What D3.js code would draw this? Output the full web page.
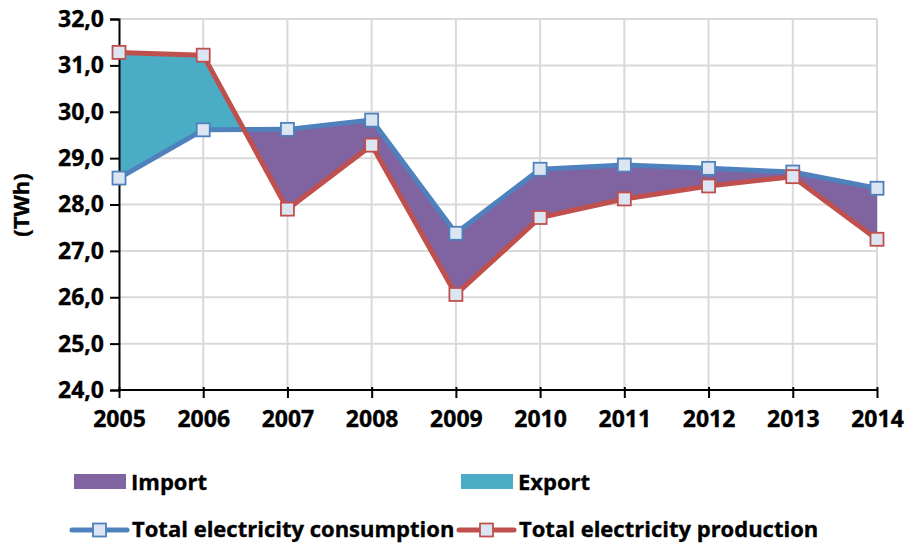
<!DOCTYPE html>
<html>
<head>
<meta charset="utf-8">
<script src="https://cdn.jsdelivr.net/npm/d3@7/dist/d3.min.js"></script>
<style>
  html, body { margin: 0; padding: 0; background: #fff; }
  svg { display: block; }
  text { font-family: "Open Sans", "Noto Sans", sans-serif; font-weight: 700; fill: #000; stroke: #000; stroke-width: 0.35px; }
</style>
</head>
<body>
<svg id="chart" width="907" height="545"></svg>
<script>
// Electricity balance 2005–2014 (TWh)
const years = [2005, 2006, 2007, 2008, 2009, 2010, 2011, 2012, 2013, 2014];
const consumption = [28.57, 29.61, 29.62, 29.82, 27.38, 28.76, 28.85, 28.78, 28.70, 28.35];
const production  = [31.28, 31.22, 27.90, 29.28, 26.06, 27.72, 28.12, 28.40, 28.60, 27.25];
const yTickValues = [24, 25, 26, 27, 28, 29, 30, 31, 32];
const yTickLabels = ["24,0", "25,0", "26,0", "27,0", "28,0", "29,0", "30,0", "31,0", "32,0"];
const yAxisTitle = "(TWh)";
const legendAreas = ["Import", "Export"];
const legendLines = ["Total electricity consumption", "Total electricity production"];

const colors = {
  import: "#8064A2",
  export: "#4BACC6",
  consumption: "#4F81BD",
  production: "#C0504D",
  markerFill: "#DCE6F2",
  grid: "#D9D9D9"
};

const svg = d3.select("#chart");
const W = 907, H = 545;
const plotLeft = 119, plotRight = 877, plotTop = 19, plotBottom = 390;
const tickFont = 23, legendFont = 22;

const x = d3.scalePoint().domain(years).range([plotLeft, plotRight]);
const y = d3.scaleLinear().domain([24, 32]).range([plotBottom, plotTop]);

const rows = years.map((yr, i) => ({ year: yr, c: consumption[i], p: production[i] }));

// gridlines
const grid = svg.append("g");
grid.selectAll("line.h").data(yTickValues.filter(v => v > 24)).join("line")
  .attr("x1", plotLeft).attr("x2", plotRight)
  .attr("y1", d => y(d)).attr("y2", d => y(d))
  .attr("stroke", colors.grid).attr("stroke-width", 2);
grid.selectAll("line.v").data(years.slice(1)).join("line")
  .attr("x1", d => x(d)).attr("x2", d => x(d))
  .attr("y1", plotTop).attr("y2", plotBottom)
  .attr("stroke", colors.grid).attr("stroke-width", 2);

// clip regions split by the production line
const defs = svg.append("defs");
defs.append("clipPath").attr("id", "aboveProd").append("path")
  .attr("d", d3.area().x(d => x(d.year)).y0(0).y1(d => y(d.p))(rows));
defs.append("clipPath").attr("id", "belowProd").append("path")
  .attr("d", d3.area().x(d => x(d.year)).y0(H).y1(d => y(d.p))(rows));

const band = d3.area().x(d => x(d.year)).y0(d => y(d.p)).y1(d => y(d.c));

// import: consumption above production
svg.append("path").attr("d", band(rows))
  .attr("fill", colors.import).attr("clip-path", "url(#aboveProd)");
// export: production above consumption
svg.append("path").attr("d", band(rows))
  .attr("fill", colors.export).attr("clip-path", "url(#belowProd)");

// axes
const yAxis = d3.axisLeft(y).tickValues(yTickValues)
  .tickFormat((d, i) => yTickLabels[i]).tickSize(9).tickPadding(6);
const gy = svg.append("g").attr("transform", `translate(${plotLeft},0)`).call(yAxis);
gy.select(".domain").attr("stroke", "#000").attr("stroke-width", 2);
gy.selectAll(".tick line").attr("stroke", "#000").attr("stroke-width", 2);
gy.selectAll(".tick text").attr("font-size", tickFont).attr("font-family", null).attr("fill", "#000");

const xAxis = d3.axisBottom(x).tickSize(8).tickPadding(13);
const gx = svg.append("g").attr("transform", `translate(0,${plotBottom})`).call(xAxis);
gx.select(".domain").attr("stroke", "#000").attr("stroke-width", 2)
  .attr("d", `M${plotLeft},0H${plotRight}`);
gx.selectAll(".tick line").attr("stroke", "#000").attr("stroke-width", 2).attr("y1", -3);
gx.selectAll(".tick text").attr("font-size", tickFont).attr("font-family", null).attr("fill", "#000");

svg.append("text")
  .attr("transform", `translate(29,205) rotate(-90)`)
  .attr("text-anchor", "middle")
  .attr("font-size", legendFont)
  .text(yAxisTitle);

// series lines with square markers
const line = key => d3.line().x(d => x(d.year)).y(d => y(d[key]));
const ms = 13;
function drawSeries(key, color) {
  svg.append("path").attr("d", line(key)(rows))
    .attr("fill", "none").attr("stroke", color).attr("stroke-width", 5)
    .attr("stroke-linejoin", "round");
  svg.append("g").selectAll("rect").data(rows).join("rect")
    .attr("x", d => x(d.year) - ms / 2).attr("y", d => y(d[key]) - ms / 2)
    .attr("width", ms).attr("height", ms)
    .attr("fill", colors.markerFill).attr("stroke", color).attr("stroke-width", 1.8);
}
drawSeries("c", colors.consumption);
drawSeries("p", colors.production);

// legend
const lg = svg.append("g");
const areaItems = [
  { label: legendAreas[0], color: colors.import, x: 74 },
  { label: legendAreas[1], color: colors.export, x: 461 }
];
areaItems.forEach(it => {
  lg.append("rect").attr("x", it.x).attr("y", 474).attr("width", 52).attr("height", 15)
    .attr("fill", it.color);
  lg.append("text").attr("x", it.x + 57).attr("y", 490).attr("font-size", legendFont).text(it.label);
});
const lineItems = [
  { label: legendLines[0], color: colors.consumption, x: 72 },
  { label: legendLines[1], color: colors.production, x: 459 }
];
lineItems.forEach(it => {
  lg.append("line").attr("x1", it.x).attr("x2", it.x + 55).attr("y1", 530).attr("y2", 530)
    .attr("stroke", it.color).attr("stroke-width", 5).attr("stroke-linecap", "round");
  lg.append("rect").attr("x", it.x + 27.5 - 6.5).attr("y", 530 - 6.5).attr("width", 13).attr("height", 13)
    .attr("fill", colors.markerFill).attr("stroke", it.color).attr("stroke-width", 1.8);
  lg.append("text").attr("x", it.x + 60).attr("y", 537).attr("font-size", legendFont).text(it.label);
});
</script>
</body>
</html>
